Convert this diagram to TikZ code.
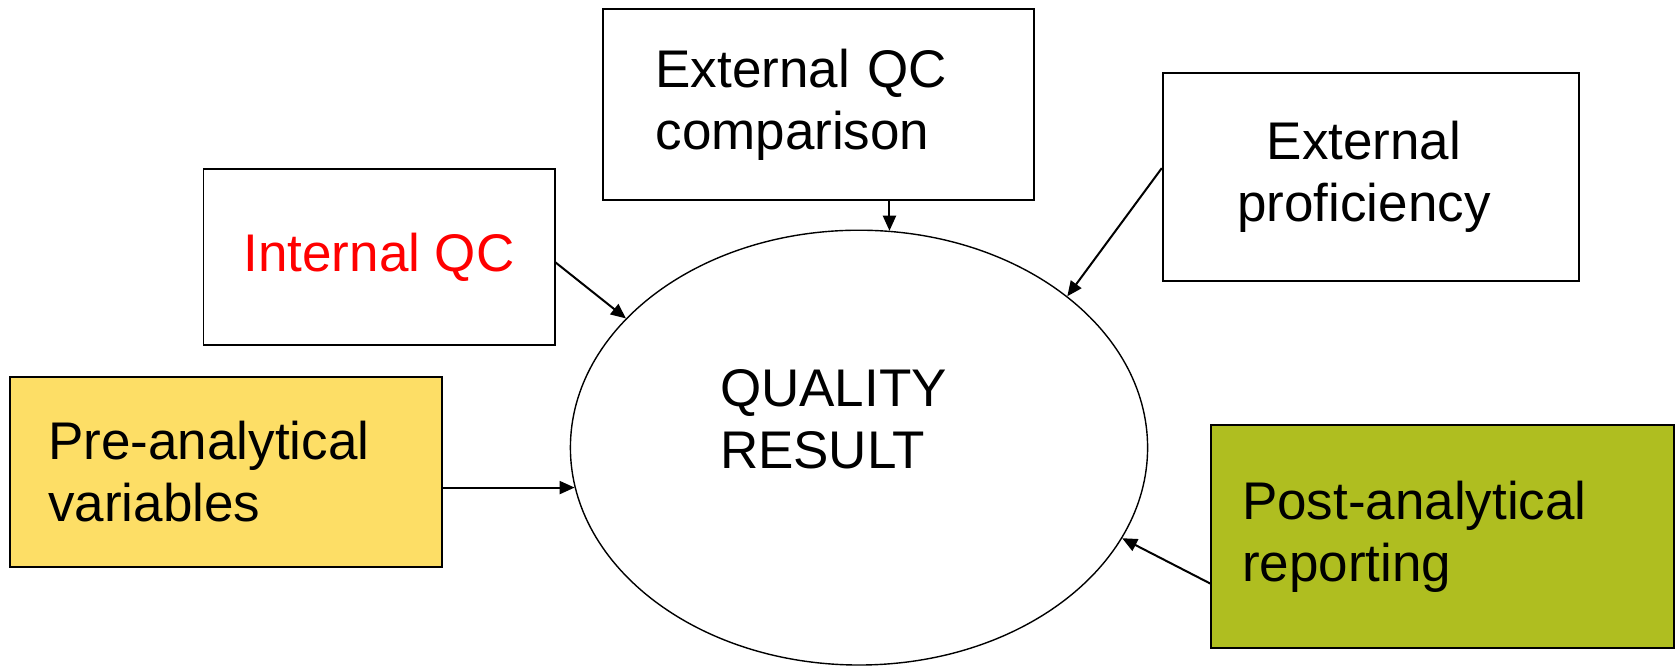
\documentclass[tikz,border=0pt]{standalone}
\usepackage{fontspec}
\setmainfont{Liberation Sans}
\usetikzlibrary{arrows.meta,shapes.geometric}
\definecolor{preyellow}{HTML}{FDDE66}
\definecolor{postolive}{HTML}{AFBE20}

\begin{document}
\begin{tikzpicture}[x=0.5pt, y=-0.5pt,
    box/.style={draw, line width=0.9pt, inner sep=0pt, font=\fontsize{26.5}{31}\selectfont},
    arr/.style={-{Triangle[length=7.5pt,width=6.5pt]}, line width=1pt}]
    \useasboundingbox (0,0) rectangle (1679,665);

    % Centre ellipse
    \node[ellipse, draw, line width=0.7pt, minimum width=288.6pt, minimum height=217.4pt, inner sep=0pt] (result) at (859,447.6) {};
    \node[font=\fontsize{26.5}{31}\selectfont, align=left, anchor=west, inner sep=0pt] (resultlabel) at (719.6,419.5) {QUALITY\\RESULT};

    % Boxes round it
    \node[box, minimum width=215.5pt, minimum height=95.8pt, text width=163pt, inner xsep=26.2pt, align=left] (extqc) at (818.5,104.4) {External QC\\comparison};
    \node[box, minimum width=208.3pt, minimum height=103.9pt, align=center] (extprof) at (1371,176.7) {\hspace*{-7pt}External\\\hspace*{-7pt}proficiency};
    \node[box, minimum width=175.6pt, minimum height=87.8pt, text=red] (intqc) at (379,257) {Internal QC};
    \node[box, fill=preyellow, minimum width=216.3pt, minimum height=95.3pt, text width=177.7pt, inner xsep=19.3pt, align=left] (preana) at (226,472) {Pre-analytical\\variables};
    \node[box, fill=postolive, minimum width=231.3pt, minimum height=111.4pt, text width=200.3pt, inner xsep=15.5pt, align=left] (postana) at (1442.4,536.5) {Post-analytical\\reporting};

    % Arrows into the ellipse
    \draw[arr] (extqc.south -| result.82) -- (result.82);
    \draw[arr] ([yshift=-2.7pt]intqc.east) -- (result.151);
    \draw[arr] ([yshift=4.3pt]extprof.west) -- (result.36);
    \draw[arr] (preana.east |- result.188) -- (result.188);
    \draw[arr] ([yshift=-23.5pt]postana.west) -- (result.341);
\end{tikzpicture}
\end{document}
